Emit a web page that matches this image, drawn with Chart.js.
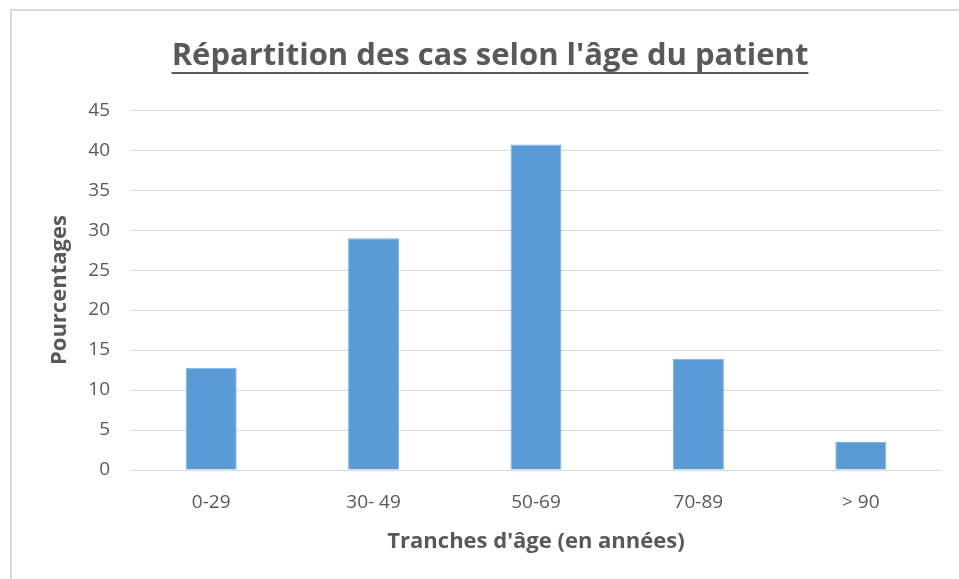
<!DOCTYPE html>
<html>
<head>
<meta charset="utf-8">
<script src="https://cdn.jsdelivr.net/npm/chart.js@4/dist/chart.umd.min.js"></script>
<style>
  html, body { margin: 0; padding: 0; background: #ffffff; }
  #wrap { width: 959px; height: 579px; position: relative; }
</style>
</head>
<body>
<div id="wrap"><canvas id="c" width="959" height="579"></canvas></div>
<script>
const categories = ['0-29', '30- 49', '50-69', '70-89', '> 90'];
const percentages = [12.8, 29, 40.7, 13.9, 3.5];
const yTicks = [0, 5, 10, 15, 20, 25, 30, 35, 40, 45];

const chartTitle = "Répartition des cas selon l'âge du patient";
const xTitle = "Tranches d'âge (en années)";
const yTitle = 'Pourcentages';

const FONT = '"Open Sans", Lato, sans-serif';
const TEXT = '#595959';

const frameAndUnderline = {
  id: 'frameAndUnderline',
  beforeDraw(chart) {
    const ctx = chart.ctx;
    ctx.save();
    ctx.fillStyle = '#ffffff';
    ctx.fillRect(0, 0, chart.width, chart.height);
    ctx.strokeStyle = '#d9d9d9';
    ctx.lineWidth = 2;
    ctx.beginPath();
    ctx.moveTo(11, chart.height);
    ctx.lineTo(11, 10);
    ctx.lineTo(chart.width, 10);
    ctx.stroke();
    ctx.restore();
  },
  afterDraw(chart) {
    const tb = chart.titleBlock;
    if (!tb) return;
    const ctx = chart.ctx;
    const f = tb.options.font;
    ctx.save();
    ctx.font = `bold ${f.size}px ${f.family}`;
    const w = ctx.measureText(chartTitle).width;
    const cx = tb.left + tb.width / 2;
    const y = 73;
    ctx.strokeStyle = TEXT;
    ctx.lineWidth = 2;
    ctx.beginPath();
    ctx.moveTo(cx - w / 2, y);
    ctx.lineTo(cx + w / 2, y);
    ctx.stroke();
    ctx.restore();
  }
};

new Chart(document.getElementById('c'), {
  type: 'bar',
  data: {
    labels: categories,
    datasets: [{
      data: percentages,
      backgroundColor: '#5b9bd5',
      borderColor: '#7fb2e0',
      borderWidth: 1,
      categoryPercentage: 1,
      barPercentage: 0.314
    }]
  },
  plugins: [frameAndUnderline],
  options: {
    responsive: false,
    animation: false,
    layout: { padding: { left: 38, right: 17, top: 0, bottom: 0 } },
    plugins: {
      legend: { display: false },
      tooltip: { enabled: false },
      title: {
        display: true,
        text: chartTitle,
        color: TEXT,
        font: { family: FONT, size: 31, weight: 'bold', lineHeight: 1.2 },
        padding: { top: 38, bottom: 35 }
      }
    },
    scales: {
      x: {
        grid: { display: false },
        border: { display: false },
        ticks: { color: TEXT, font: { family: FONT, size: 19 }, padding: 13, maxRotation: 0 },
        title: {
          display: true, text: xTitle, color: TEXT,
          font: { family: FONT, size: 22, weight: 'bold', lineHeight: 1.2 },
          padding: { top: 0, bottom: 24 }
        },
        afterFit(scale) { scale.height = 109; }
      },
      y: {
        min: 0, max: 45,
        afterBuildTicks(scale) { scale.ticks = yTicks.map(v => ({ value: v })); },
        grid: { color: '#d9d9d9', lineWidth: 1, drawTicks: false },
        border: { display: false },
        ticks: { color: TEXT, font: { family: FONT, size: 19 }, padding: 20 },
        title: {
          display: true, text: yTitle, color: TEXT,
          font: { family: FONT, size: 22, weight: 'bold', lineHeight: 1.2 },
          padding: { top: 9, bottom: 0 }
        },
        afterFit(scale) { scale.width = 92; }
      }
    }
  }
});
</script>
</body>
</html>
